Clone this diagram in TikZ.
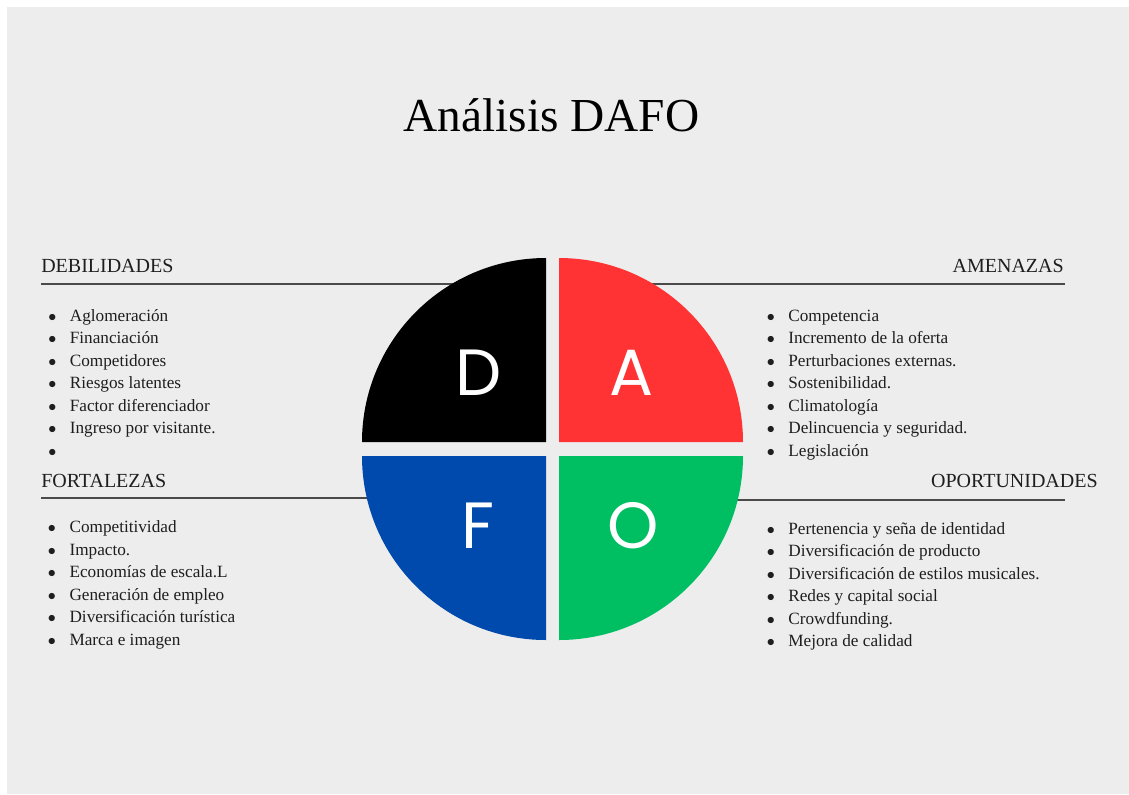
\documentclass[tikz,border=0pt]{standalone}
\usepackage{fontspec}
\setmainfont{Liberation Serif}
\newfontfamily\letterfont{Poppins}
\usepackage{xcolor}
\usepackage{tikz}

\definecolor{bggray}{HTML}{EDEDED}
\definecolor{textgray}{HTML}{1E1E1E}
\definecolor{rulegray}{HTML}{4A4A4A}
\definecolor{dafored}{HTML}{FF3333}
\definecolor{dafoblue}{HTML}{004AAD}
\definecolor{dafogreen}{HTML}{00BF63}

\newcommand{\dafoitem}[1]{\makebox[16.2pt][l]{$\bullet$}#1}

\begin{document}
\begin{tikzpicture}[
    x=0.75pt, y=-0.75pt,
    title/.style={inner sep=0pt, anchor=base, font=\fontsize{35.5}{40}\selectfont, text=black},
    heading/.style={inner sep=0pt, font=\fontsize{15}{18}\selectfont, text=textgray},
    entry/.style={inner sep=0pt, anchor=base west, font=\fontsize{12.9}{15}\selectfont, text=textgray},
    letter/.style={inner sep=0pt, text=white, font=\letterfont\fontsize{49}{52}\selectfont},
    rule/.style={draw=rulegray, line width=1.1pt}
]
% Page and background
\fill[white] (0,0) rectangle (1129,794);
\useasboundingbox (0,0) rectangle (1129,794);
\fill[bggray] (7,7) rectangle (1129,794);

% Title
\node[title] (titulo) at (551.5,131) {Análisis DAFO};

% Headings
\node[heading, anchor=base west] (debil) at (41,272) {DEBILIDADES};
\node[heading, anchor=base east] (amen) at (1064,272) {AMENAZAS};
\node[heading, anchor=base west] (fortal) at (41,487) {FORTALEZAS};
\node[heading, anchor=base east] (oport) at (1098,487) {OPORTUNIDADES};

% Rules under the headings (behind the circle)
\draw[rule] (41,284) -- (470,284);
\draw[rule] (640,284) -- (1065,284);
\draw[rule] (41,498) -- (400,498);
\draw[rule] (700,500) -- (1065,500);

% Quadrants
\fill[black] (546,442) -- (362,442) arc[start angle=180, end angle=270, radius=184] -- cycle;
\fill[dafored] (559,442) -- (559,258) arc[start angle=270, end angle=360, radius=184] -- cycle;
\fill[dafoblue] (546,456) -- (362,456) arc[start angle=180, end angle=90, radius=184] -- cycle;
\fill[dafogreen] (559,456) -- (743,456) arc[start angle=0, end angle=90, radius=184] -- cycle;

% Letters
\node[letter] (letD) at (479,373) {D};
\node[letter] (letA) at (632,373) {A};
\node[letter] (letF) at (478,526) {F};
\node[letter] (letO) at (633,526) {O};

% Debilidades
\node[entry] (d1) at (48,321) {\dafoitem{Aglomeración}};
\node[entry] (d2) at (48,343.5) {\dafoitem{Financiación}};
\node[entry] (d3) at (48,366) {\dafoitem{Competidores}};
\node[entry] (d4) at (48,388.5) {\dafoitem{Riesgos latentes}};
\node[entry] (d5) at (48,411) {\dafoitem{Factor diferenciador}};
\node[entry] (d6) at (48,433.5) {\dafoitem{Ingreso por visitante.}};
\node[entry] (d7) at (48,456) {\dafoitem{}};

% Amenazas
\node[entry] (a1) at (766.5,321) {\dafoitem{Competencia}};
\node[entry] (a2) at (766.5,343.5) {\dafoitem{Incremento de la oferta}};
\node[entry] (a3) at (766.5,366) {\dafoitem{Perturbaciones externas.}};
\node[entry] (a4) at (766.5,388.5) {\dafoitem{Sostenibilidad.}};
\node[entry] (a5) at (766.5,411) {\dafoitem{Climatología}};
\node[entry] (a6) at (766.5,433.5) {\dafoitem{Delincuencia y seguridad.}};
\node[entry] (a7) at (766.5,456) {\dafoitem{Legislación}};

% Fortalezas
\node[entry] (f1) at (47.7,532.7) {\dafoitem{Competitividad}};
\node[entry] (f2) at (47.7,555.2) {\dafoitem{Impacto.}};
\node[entry] (f3) at (47.7,577.7) {\dafoitem{Economías de escala.L}};
\node[entry] (f4) at (47.7,600.2) {\dafoitem{Generación de empleo}};
\node[entry] (f5) at (47.7,622.7) {\dafoitem{Diversificación turística}};
\node[entry] (f6) at (47.7,645.2) {\dafoitem{Marca e imagen}};

% Oportunidades
\node[entry] (o1) at (766.5,534) {\dafoitem{Pertenencia y seña de identidad}};
\node[entry] (o2) at (766.5,556.5) {\dafoitem{Diversificación de producto}};
\node[entry] (o3) at (766.5,579) {\dafoitem{Diversificación de estilos musicales.}};
\node[entry] (o4) at (766.5,601.5) {\dafoitem{Redes y capital social}};
\node[entry] (o5) at (766.5,624) {\dafoitem{Crowdfunding.}};
\node[entry] (o6) at (766.5,646.5) {\dafoitem{Mejora de calidad}};

\end{tikzpicture}
\end{document}
